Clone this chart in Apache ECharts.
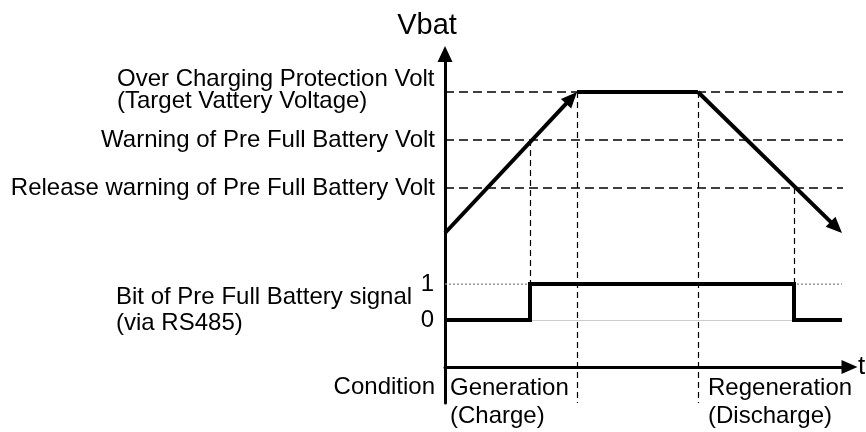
<!DOCTYPE html>
<html>
<head>
<meta charset="utf-8">
<script src="https://cdn.jsdelivr.net/npm/echarts@6/dist/echarts.min.js"></script>
<style>html,body{margin:0;padding:0;background:#fff}#c{width:866px;height:432px}</style>
</head>
<body>
<div id="c"></div>
<script>
// ---- data ----
const levelValues = [275, 227, 179];               // Vbat threshold levels (arbitrary units)
const levelNames = ['Over Charging Protection Volt', 'Warning of Pre Full Battery Volt', 'Release warning of Pre Full Battery Volt'];
const levelSubNames = ['(Target Vattery Voltage)', '', ''];
const vbatTimes = [0, 33, 63.25, 99.25];
const vbatValues = [134, 275, 275, 134];
const signalTimes = [0, 21.25, 21.25, 87.25, 87.25, 99.25];
const signalValues = [0, 0, 1, 1, 0, 0];
const guideTimes = [21.25, 33, 63.25, 87.25];
const guideTops = [227, 275, 275, 179];
const guideBottoms = [83, -36, -36, 83];
const conditionStarts = [1.25, 65.75];
const conditionNames = ['Generation', 'Regeneration'];
const conditionSubNames = ['(Charge)', '(Discharge)'];
const conditionRowValue = -20;
const signalTicks = [0, 1];
const levelEnd = 99.5;
const signalEnd = 99.25;

const FONT = '"Liberation Sans", Arial, sans-serif';
const ARROW = [14, 16];
const chart = echarts.init(document.getElementById('c'), null, {renderer: 'canvas'});

function labelFor(v) {
  const i = levelValues.indexOf(v);
  if (i === 0) return '{a|' + levelNames[0] + '}\n{b|' + levelSubNames[0] + '}';
  if (i > 0) return levelNames[i];
  if (v === conditionRowValue) return 'Condition';
  return '';
}

function arrowSegments() {
  // the arrow tip should sit on the segment end: pull the shaft back by half the arrow length
  const segs = [[0, 1], [2, 3]];
  return segs.map(([a, b]) => {
    const p0 = [vbatTimes[a], vbatValues[a]];
    const p1 = [vbatTimes[b], vbatValues[b]];
    const q0 = chart.convertToPixel({gridIndex: 0}, p0);
    const q1 = chart.convertToPixel({gridIndex: 0}, p1);
    if (!q0 || !q1) return {coords: [p0, p1]};
    const dx = q1[0] - q0[0], dy = q1[1] - q0[1];
    const len = Math.sqrt(dx * dx + dy * dy);
    const back = ARROW[1] / 2;
    const q = [q1[0] - dx / len * back, q1[1] - dy / len * back];
    return {coords: [p0, chart.convertFromPixel({gridIndex: 0}, q)]};
  });
}

const option = {
  animation: false,
  backgroundColor: '#fff',
  textStyle: {fontFamily: FONT},
  grid: [
    {left: 445, top: 54, width: 404.5, height: 349, outerBoundsMode: 'none'},
    {left: 445, top: 284, width: 404.5, height: 36, outerBoundsMode: 'none'}
  ],
  xAxis: [
    {
      type: 'value', gridIndex: 0, min: 0, max: 101.125,
      name: 't', nameLocation: 'end', nameGap: 8,
      nameTextStyle: {fontSize: 26, color: '#000', fontFamily: FONT, verticalAlign: 'middle', padding: [0,0,4,0]},
      axisLine: {show: true, onZero: true, symbol: ['none', 'triangle'], symbolSize: [14, 16],
        lineStyle: {color: '#000', width: 3}},
      axisTick: {show: false},
      splitLine: {show: false},
      axisLabel: {
        show: true, customValues: conditionStarts, margin: -29, align: 'left', verticalAlign: 'top',
        fontSize: 24, lineHeight: 28, color: '#000', fontFamily: FONT,
        formatter: function (v) {
          const i = conditionStarts.indexOf(v);
          return i >= 0 ? conditionNames[i] + '\n' + conditionSubNames[i] : '';
        }
      }
    },
    {type: 'value', gridIndex: 1, min: 0, max: 101.125, show: false}
  ],
  yAxis: [
    {
      type: 'value', gridIndex: 0, min: -36, max: 313,
      name: 'Vbat', nameLocation: 'end', nameGap: 14,
      nameTextStyle: {fontSize: 29, color: '#000', fontFamily: FONT, align: 'center', padding: [0, 36, 0, 0]},
      axisLine: {show: true, symbol: ['none', 'triangle'], symbolSize: [15, 16],
        lineStyle: {color: '#000', width: 3}},
      axisTick: {show: false},
      splitLine: {show: false},
      axisLabel: {
        show: true, customValues: levelValues.concat([conditionRowValue]), margin: 10,
        fontSize: 24, color: '#000', fontFamily: FONT,
        formatter: labelFor,
        rich: {
          a: {fontSize: 24, lineHeight: 26, width: 318, align: 'left', color: '#000', fontFamily: FONT},
          b: {fontSize: 24, lineHeight: 26, width: 318, align: 'left', color: '#000', fontFamily: FONT, padding: [0, 0, 8, 0]}
        }
      }
    },
    {
      type: 'value', gridIndex: 1, min: 0, max: 1, interval: 1,
      name: '{a|Bit of Pre Full Battery signal}\n{a|(via RS485)}',
      nameLocation: 'middle', nameRotate: 0, nameGap: 33,
      nameTextStyle: {align: 'right', verticalAlign: 'middle', padding: [16, 0, 0, 0],
        rich: {a: {fontSize: 24, lineHeight: 26, width: 296, align: 'left', color: '#000', fontFamily: FONT}}},
      axisLine: {show: false},
      axisTick: {show: false},
      splitLine: {show: false},
      axisLabel: {show: true, showMinLabel: true, showMaxLabel: true, margin: 11,
        fontSize: 24, color: '#000', fontFamily: FONT,
        formatter: function (v) { return signalTicks.indexOf(v) >= 0 ? String(v) : ''; }}
    }
  ],
  series: [
    {
      type: 'lines', coordinateSystem: 'cartesian2d', xAxisIndex: 0, yAxisIndex: 0, z: 2,
      symbol: 'none', silent: true,
      lineStyle: {color: '#000', width: 1.5, type: [9, 5], opacity: 1},
      data: levelValues.map(v => ({coords: [[0, v], [levelEnd, v]]}))
    },
    {
      type: 'lines', coordinateSystem: 'cartesian2d', xAxisIndex: 0, yAxisIndex: 0, z: 2,
      symbol: 'none', silent: true,
      lineStyle: {color: '#000', width: 1.2, type: [6, 4], opacity: 1},
      data: guideTimes.map((t, i) => ({coords: [[t, guideTops[i]], [t, guideBottoms[i]]]}))
    },
    {
      type: 'lines', coordinateSystem: 'cartesian2d', xAxisIndex: 1, yAxisIndex: 1, z: 2,
      symbol: 'none', silent: true,
      lineStyle: {color: '#888', width: 1.5, type: [2, 2], opacity: 1},
      data: [{coords: [[0, 1], [signalEnd, 1]]}]
    },
    {
      type: 'lines', coordinateSystem: 'cartesian2d', xAxisIndex: 1, yAxisIndex: 1, z: 2,
      symbol: 'none', silent: true,
      lineStyle: {color: '#999', width: 1, type: 'solid', opacity: 1},
      data: [{coords: [[0, 0], [signalEnd, 0]]}]
    },
    // flat (saturated) part of the Vbat trace
    {
      type: 'line', xAxisIndex: 0, yAxisIndex: 0, z: 5, showSymbol: false, silent: true,
      lineStyle: {color: '#000', width: 4, join: 'miter', cap: 'butt'},
      data: [[vbatTimes[1], vbatValues[1]], [vbatTimes[2], vbatValues[2]]]
    },
    // rising and falling parts with arrow heads
    {
      id: 'arrows',
      type: 'lines', coordinateSystem: 'cartesian2d', xAxisIndex: 0, yAxisIndex: 0, z: 6, silent: true,
      symbol: ['none', 'triangle'], symbolSize: [0, ARROW],
      lineStyle: {color: '#000', width: 4, opacity: 1},
      data: [
        {coords: [[vbatTimes[0], vbatValues[0]], [vbatTimes[1], vbatValues[1]]]},
        {coords: [[vbatTimes[2], vbatValues[2]], [vbatTimes[3], vbatValues[3]]]}
      ]
    },
    {
      type: 'line', xAxisIndex: 1, yAxisIndex: 1, z: 5, showSymbol: false, silent: true,
      lineStyle: {color: '#000', width: 4, join: 'miter'},
      data: signalTimes.map((t, i) => [t, signalValues[i]])
    }
  ]
};
chart.setOption(option);
chart.setOption({series: [{id: 'arrows', data: arrowSegments()}]});
</script>
</body>
</html>
